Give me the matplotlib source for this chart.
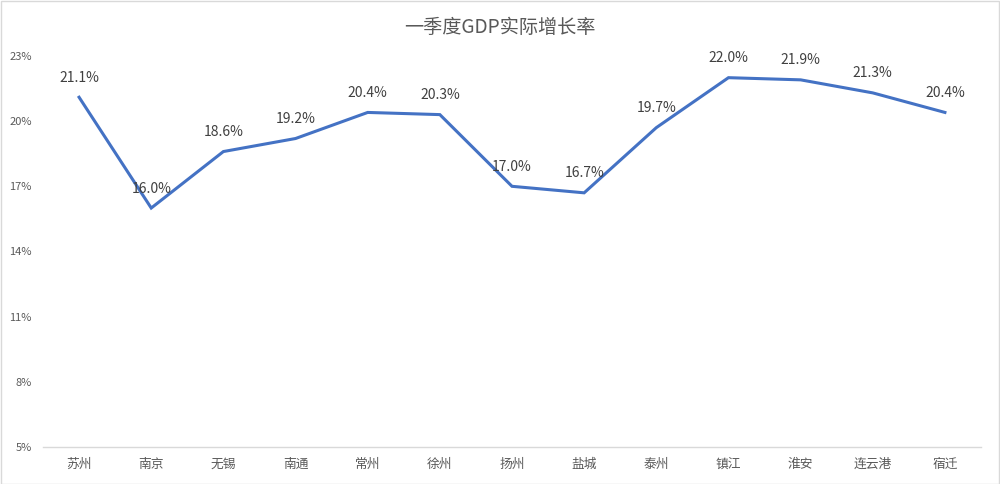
import matplotlib.pyplot as plt
import matplotlib

plt.rcParams['font.family'] = ['Noto Sans CJK SC', 'DejaVu Sans']

cities = ["苏州", "南京", "无锡", "南通", "常州", "徐州", "扬州", "盐城", "泰州", "镇江", "淮安", "连云港", "宿迁"]
growth = [21.1, 16.0, 18.6, 19.2, 20.4, 20.3, 17.0, 16.7, 19.7, 22.0, 21.9, 21.3, 20.4]
yticks = [5, 8, 11, 14, 17, 20, 23]

fig = plt.figure(figsize=(10, 4.84), dpi=100)
ax = fig.add_axes([0.043, 0.0764, 0.938, 0.808])

x = list(range(len(cities)))
ax.plot(x, growth, color='#4472C4', linewidth=2.2, solid_joinstyle='miter')

for i, v in enumerate(growth):
    ax.annotate("%.1f%%" % v, (i, v), xytext=(0, 9), textcoords='offset points',
                ha='center', va='bottom', fontsize=10, color='#404040')

ax.set_xlim(-0.5, len(cities) - 0.5)
ax.set_ylim(5, 23)
ax.set_yticks(yticks)
ax.set_yticklabels(["%d%%" % t for t in yticks])
ax.set_xticks(x)
ax.set_xticklabels(cities)
ax.tick_params(axis='both', length=0, labelsize=8, colors='#595959')
ax.tick_params(axis='x', pad=8, labelsize=9.2)
ax.tick_params(axis='y', pad=8)

for s in ['top', 'right', 'left']:
    ax.spines[s].set_visible(False)
ax.spines['bottom'].set_color('#D9D9D9')
ax.spines['bottom'].set_linewidth(1)

fig.text(0.5, 0.944, "一季度GDP实际增长率", ha='center', va='center', fontsize=13.8, color='#595959')

fig.patches.append(matplotlib.patches.Rectangle((0.001, 0.001), 0.998, 0.997, transform=fig.transFigure,
                                                fill=False, edgecolor='#D9D9D9', linewidth=1))

fig.savefig("out.png", dpi=100)
